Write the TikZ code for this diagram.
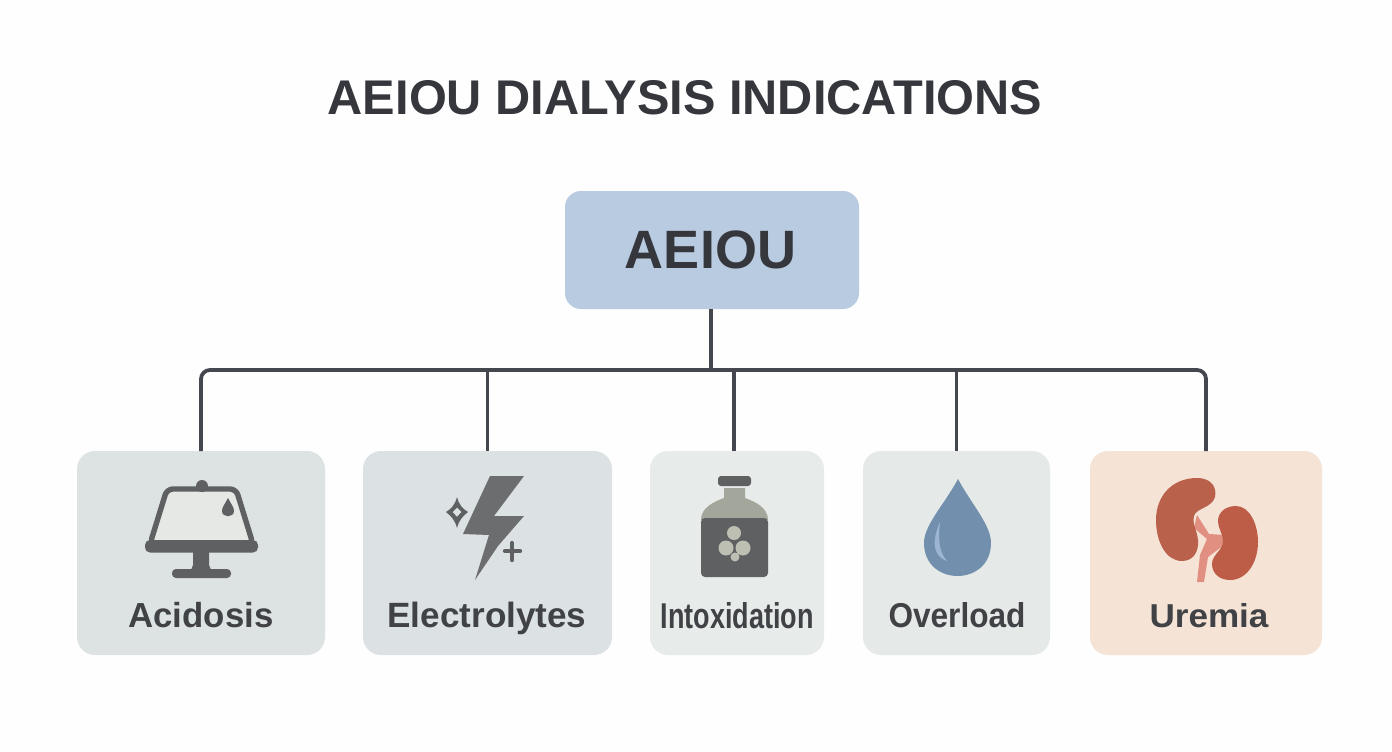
\documentclass[tikz,border=0pt]{standalone}
\usepackage{fontspec}
\setmainfont{Liberation Sans}
\definecolor{inkc}{HTML}{35373C}
\definecolor{labelc}{HTML}{404245}
\definecolor{linkc}{HTML}{45474E}
\definecolor{rootc}{HTML}{B9CBE1}
\definecolor{acidc}{HTML}{DDE2E3}
\definecolor{electroc}{HTML}{DCE1E3}
\definecolor{intoxc}{HTML}{E7ECEB}
\definecolor{overc}{HTML}{E5EAE8}
\definecolor{uremc}{HTML}{F5E3D6}
\definecolor{iconc}{HTML}{5E6062}
\definecolor{screenc}{HTML}{E6E8E6}
\definecolor{boltc}{HTML}{6B6D6E}
\definecolor{glassc}{HTML}{A3A69A}
\definecolor{pillc}{HTML}{BDBFB2}
\definecolor{dropc}{HTML}{7290AE}
\definecolor{shinec}{HTML}{9BB5D3}
\definecolor{kidneyc}{HTML}{BA614B}
\definecolor{ureterc}{HTML}{E08F80}
\tikzset{
 card/.style={rounded corners=18pt,minimum height=204pt,inner sep=0pt,outer sep=0pt},
 cardlabel/.style={text=labelc,font=\bfseries\fontsize{33}{36}\selectfont,inner sep=0pt,anchor=base},
 link/.style={draw=linkc,line width=3.8pt}
}
\begin{document}
\begin{tikzpicture}[x=1pt,y=-1pt]
 \useasboundingbox[fill=white!99!gray] (0,0) rectangle (1392,752);
 \node[text=inkc,font=\bfseries\fontsize{48.7}{52}\selectfont,inner sep=0pt] (title) at (685,98) {AEIOU DIALYSIS INDICATIONS};
 % boxes
 \node[card,fill=rootc,rounded corners=16pt,minimum width=294pt,minimum height=118pt,text=inkc,font=\bfseries\fontsize{54}{56}\selectfont] (root) at (712,250) {\hspace{-3pt}AEIOU};
 \node[card,fill=acidc,minimum width=248pt] (acidosis) at (201,553) {};
 \node[card,fill=electroc,minimum width=249pt] (electrolytes) at (487.5,553) {};
 \node[card,fill=intoxc,minimum width=174pt] (intox) at (737,553) {};
 \node[card,fill=overc,minimum width=187pt] (overload) at (956.5,553) {};
 \node[card,fill=uremc,minimum width=232pt] (uremia) at (1206,553) {};
 % labels
 \node[cardlabel] (acidosislabel) at (201,627) {\resizebox{145pt}{!}{Acidosis}};
 \node[cardlabel] (electrolyteslabel) at (487,627) {\resizebox{199pt}{!}{Electrolytes}};
 \node[cardlabel] (intoxlabel) at (737,628) {\resizebox{153pt}{26pt}{Intoxidation}};
 \node[cardlabel] (overloadlabel) at (957,627) {\resizebox{137pt}{25pt}{Overload}};
 \node[cardlabel] (uremialabel) at (1209,627) {\resizebox{119pt}{24pt}{Uremia}};
 % connectors
 \coordinate (bus) at (711,370);
 \draw[link] (root.south -| bus) -- (bus);
 \draw[link,rounded corners=9pt] (acidosis.north) |- (bus) -| (uremia.north);
 \draw[link] (electrolytes.north) -- (electrolytes.north |- bus);
 \draw[link] ([xshift=-3pt]intox.north) -- ([xshift=-3pt]intox.north |- bus);
 \draw[link] (overload.north) -- (overload.north |- bus);
 % monitor
 \filldraw[fill=screenc,draw=iconc,line width=5.4pt,rounded corners=6pt] (167,489) -- (236,489) -- (253,544) -- (150,544) -- cycle;
 \fill[iconc,rounded corners=5pt] (145,540) -- (258,540) -- (258,552.5) -- (145,552.5) -- cycle;
 \fill[iconc] (202,486) circle (6);
 \fill[iconc] (193,551) -- (209,551) -- (209,565) -- (211,570) -- (191,570) -- (193,565) -- cycle;
 \fill[iconc,rounded corners=4pt] (172,569) rectangle (231,578);
 \fill[iconc] (228,498) .. controls (231,504) and (234,507) .. (234,511) .. controls (234,518) and (222,518) .. (222,511) .. controls (222,507) and (225,504) .. (228,498) -- cycle;
 % bolt
 \fill[boltc] (490,476) -- (524,476) -- (494,516) -- (524,516) -- (498,546) -- (475,580) -- (489,535) -- (463,534) -- cycle;
 \fill[iconc,even odd rule] (457,497) .. controls (459,505) and (463,509) .. (468,512) .. controls (463,516) and (459,520) .. (457,528) .. controls (455,520) and (451,516) .. (446,512) .. controls (451,509) and (455,505) .. (457,497) -- cycle (457,507.5) -- (461.5,512) -- (457,517) -- (452.5,512) -- cycle;
 \draw[iconc,line width=4.4pt,line cap=round] (505,551) -- (520,551) (512,543) -- (512,560);
 % bottle
 \fill[iconc,rounded corners=3pt] (718,476) rectangle (751,486);
 \fill[glassc] (724,488) -- (745,488) -- (745,498) .. controls (756,502) and (768,508) .. (768,520) -- (701,520) .. controls (701,508) and (713,502) .. (724,498) -- cycle;
 \fill[iconc,rounded corners=4pt] (701,518) rectangle (768,577);
 \fill[pillc] (734,533) circle (7) (726,548) circle (7.5) (743,548) circle (7.5) (735,557) circle (4.5);
 % drop
 \fill[dropc] (958,479) .. controls (972,505) and (991,525) .. (991,543) .. controls (991,587) and (924,587) .. (924,543) .. controls (924,525) and (944,505) .. (958,479) -- cycle;
 \fill[shinec] (940,522) .. controls (932,540) and (932,556) .. (947,561) .. controls (939,552) and (938,540) .. (940,522) -- cycle;
 % kidneys
 \fill[ureterc] (1197,515) -- (1194,528) -- (1207,539) -- (1200,555) -- (1197,582) -- (1204,582) -- (1208,557) -- (1224,545) -- (1225,535) -- (1209,534) -- cycle;
 \fill[kidneyc] (1197,478) .. controls (1212,478) and (1217,488) .. (1215,497) .. controls (1212,508) and (1196,508) .. (1194,516) .. controls (1192,524) and (1197,530) .. (1198,540) .. controls (1199,552) and (1193,561) .. (1182,561) .. controls (1166,561) and (1156,542) .. (1156,520) .. controls (1156,496) and (1172,478) .. (1197,478) -- cycle;
 \fill[kidneyc!96!red] (1236,506) .. controls (1250,506) and (1258,525) .. (1258,542) .. controls (1258,562) and (1247,580) .. (1230,580) .. controls (1219,580) and (1212,573) .. (1212,564) .. controls (1212,554) and (1224,550) .. (1223,540) .. controls (1222,532) and (1218,528) .. (1218,521) .. controls (1218,512) and (1226,506) .. (1236,506) -- cycle;
\end{tikzpicture}
\end{document}
